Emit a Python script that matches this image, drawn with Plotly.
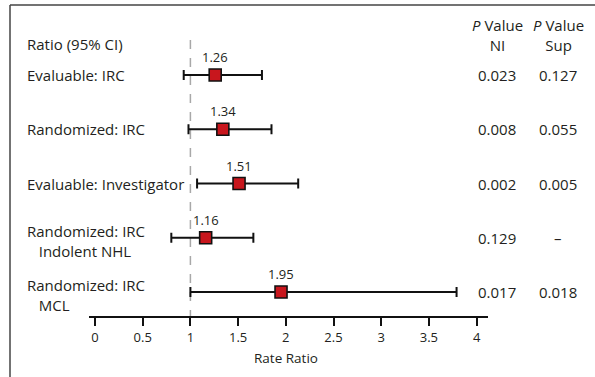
import plotly.graph_objects as go

# ---- data ----
row_labels = ["Evaluable: IRC", "Randomized: IRC", "Evaluable: Investigator", "Randomized: IRC", "Randomized: IRC"]
sub_labels = ["", "", "", "Indolent NHL", "MCL"]
ratio = [1.26, 1.34, 1.51, 1.16, 1.95]
ci_low = [0.93, 0.98, 1.07, 0.80, 1.00]
ci_high = [1.75, 1.85, 2.13, 1.66, 3.79]
p_ni = ["0.023", "0.008", "0.002", "0.129", "0.017"]
p_sup = ["0.127", "0.055", "0.005", "–", "0.018"]
tick_vals = [0, 0.5, 1, 1.5, 2, 2.5, 3, 3.5, 4]
tick_text = ["0", "0.5", "1", "1.5", "2", "2.5", "3", "3.5", "4"]

W, H = 595, 377
FONT = "Open Sans"
TXT = "#231f20"
FS = 15
rows = list(range(len(ratio)))

# y mapping: row i at pixel 75 + 54.25*i
def ypix_to_row(p):
    return (p - 75) / 54.25

fig = go.Figure()
fig.add_trace(go.Scatter(
    x=ratio, y=rows, mode="markers",
    marker=dict(symbol="square", size=12, color="#c8161d",
                line=dict(color="#111111", width=1.6)),
    error_x=dict(type="data", symmetric=False,
                 array=[h - r for h, r in zip(ci_high, ratio)],
                 arrayminus=[r - l for r, l in zip(ratio, ci_low)],
                 color="#111111", thickness=2, width=5),
    showlegend=False, hoverinfo="skip",
))

def txt(**kw):
    d = dict(showarrow=False, xanchor="center", yanchor="middle")
    d.update(kw)
    return d

ann = []
for i, r in enumerate(ratio):
    ann.append(txt(x=r, y=i, xref="x", yref="y", text=f"{r:.2f}",
                   yshift=18, font=dict(size=13, color=TXT, family=FONT)))
for i, (lab, sub) in enumerate(zip(row_labels, sub_labels)):
    if sub:
        ann.append(txt(x=25 / W, y=i, xref="paper", yref="y",
                       text=lab + "<br>&nbsp;&nbsp;&nbsp;" + sub, align="left",
                       xanchor="left", yshift=-3, font=dict(size=FS, color=TXT, family=FONT)))
    else:
        ann.append(txt(x=25 / W, y=i, xref="paper", yref="y", text=lab,
                       xanchor="left", font=dict(size=FS, color=TXT, family=FONT)))
    ann.append(txt(x=497 / W, y=i, xref="paper", yref="y", text=p_ni[i],
                   font=dict(size=FS, color=TXT, family=FONT)))
    ann.append(txt(x=558 / W, y=i, xref="paper", yref="y", text=p_sup[i],
                   font=dict(size=FS, color=TXT, family=FONT)))

ann.append(txt(x=25 / W, y=1 - 44 / H, xref="paper", yref="paper", text="Ratio (95% CI)",
               xanchor="left", font=dict(size=FS, color=TXT, family=FONT)))
for cx, sub in [(497, "NI"), (558, "Sup")]:
    ann.append(txt(x=cx / W, y=1 - 35 / H, xref="paper", yref="paper",
                   text="<i>P</i> Value<br>" + sub,
                   font=dict(size=FS, color=TXT, family=FONT)))
ann.append(txt(x=2, y=1 - 358 / H, xref="x", yref="paper", text="Rate Ratio",
               font=dict(size=13.5, color=TXT, family=FONT)))

shapes = [
    dict(type="line", xref="x", yref="y", x0=1, x1=1, y0=ypix_to_row(40), y1=ypix_to_row(317),
         line=dict(color="#a8a8a8", width=1.5, dash="dash"), layer="below"),
    dict(type="line", xref="paper", yref="paper", x0=10 / W, x1=1, y0=1 - 5 / H, y1=1 - 5 / H,
         line=dict(color="#444444", width=1.5)),
    dict(type="line", xref="paper", yref="paper", x0=10 / W, x1=10 / W, y0=0, y1=1 - 5 / H,
         line=dict(color="#444444", width=1.5)),
]

x0 = -6 / 95.4
x1 = (488 - 95) / 95.4
fig.update_layout(
    width=W, height=H, margin=dict(l=0, r=0, t=0, b=0),
    paper_bgcolor="white", plot_bgcolor="white",
    xaxis=dict(domain=[89 / W, 488 / W], range=[x0, x1], anchor="free", position=1 - 317 / H,
               showline=True, linecolor="#111111", linewidth=2, ticks="outside", ticklen=8,
               tickwidth=2, tickcolor="#111111", tickvals=tick_vals, ticktext=tick_text,
               showgrid=False, zeroline=False,
               tickfont=dict(size=13, color=TXT, family=FONT)),
    yaxis=dict(domain=[0, 1], range=[ypix_to_row(H), ypix_to_row(0)], visible=False,
               showgrid=False, zeroline=False),
    annotations=ann, shapes=shapes,
)
fig.write_html("out.html")
